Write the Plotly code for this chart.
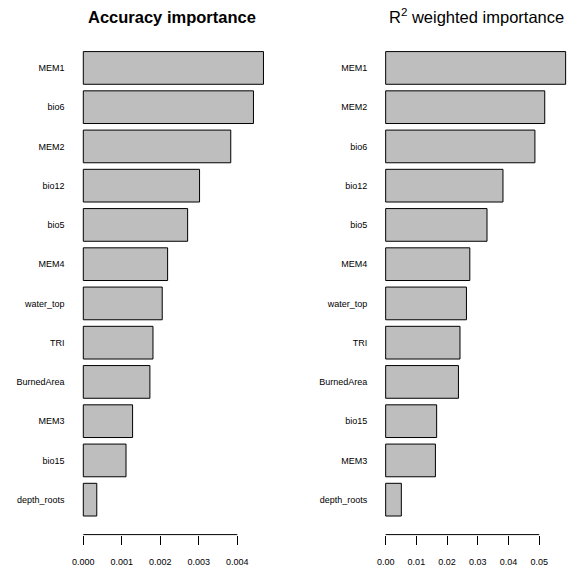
import plotly.graph_objects as go

# accuracy importance, sorted top to bottom
acc_vars = ["MEM1", "bio6", "MEM2", "bio12", "bio5", "MEM4", "water_top",
            "TRI", "BurnedArea", "MEM3", "bio15", "depth_roots"]
acc_vals = [0.00468, 0.00442, 0.00383, 0.00302, 0.00271, 0.00219, 0.00205,
            0.00181, 0.00173, 0.00128, 0.00111, 0.00035]

# R2 weighted importance, sorted top to bottom
r2_vars = ["MEM1", "MEM2", "bio6", "bio12", "bio5", "MEM4", "water_top",
           "TRI", "BurnedArea", "bio15", "MEM3", "depth_roots"]
r2_vals = [0.0586, 0.0518, 0.0486, 0.0382, 0.0330, 0.0274, 0.0263,
           0.0242, 0.0237, 0.0166, 0.0162, 0.0051]

acc_ticks = [0.000, 0.001, 0.002, 0.003, 0.004]
r2_ticks = [0.00, 0.01, 0.02, 0.03, 0.04, 0.05]

FONT = "Liberation Sans, Arial, sans-serif"
W, H = 574, 576

bar_style = dict(orientation="h", marker=dict(color="#bebebe",
                 line=dict(color="black", width=1)), showlegend=False,
                 hoverinfo="x+y")

fig = go.Figure()
fig.add_trace(go.Bar(x=acc_vals, y=acc_vars, xaxis="x", yaxis="y", **bar_style))
fig.add_trace(go.Bar(x=r2_vals, y=r2_vars, xaxis="x2", yaxis="y2", **bar_style))

ydom = [(H - 534.6) / H, (H - 33) / H]
yrange = [11.89, -0.89]

xcommon = dict(showgrid=False, zeroline=False, showline=False, ticks="outside",
               ticklen=9, tickwidth=1, tickcolor="black", automargin=False,
               tickfont=dict(size=9, color="black", family=FONT),
               ticklabelstandoff=10)
ycommon = dict(showgrid=False, zeroline=False, showline=False, ticks="",
               type="category", range=yrange, automargin=False,
               tickfont=dict(size=9, color="black", family=FONT),
               ticklabelstandoff=10, domain=ydom)

fig.update_layout(
    template="none",
    width=W, height=H,
    margin=dict(l=0, r=0, t=0, b=0, pad=0),
    paper_bgcolor="white", plot_bgcolor="white",
    bargap=1 / 6,
    font=dict(family=FONT, color="black"),
    xaxis=dict(domain=[75.6 / W, 270.4 / W], range=[-0.0002, 0.00486],
               tickvals=acc_ticks, tickformat=".3f", anchor="y", **xcommon),
    yaxis=dict(anchor="x", **ycommon),
    xaxis2=dict(domain=[378.3 / W, 573.0 / W], range=[-0.0024, 0.0610],
                tickvals=r2_ticks, tickformat=".2f", anchor="y2", **xcommon),
    yaxis2=dict(anchor="x2", **ycommon),
)

# axis lines spanning first to last tick, as in base R
fig.add_shape(type="line", xref="x", yref="y domain", x0=acc_ticks[0],
              x1=acc_ticks[-1], y0=0, y1=0, line=dict(color="black", width=1))
fig.add_shape(type="line", xref="x2", yref="y2 domain", x0=r2_ticks[0],
              x1=r2_ticks[-1], y0=0, y1=0, line=dict(color="black", width=1))

fig.add_annotation(text="<b>Accuracy importance</b>", x=172 / W, y=1 - 17 / H,
                   xref="paper", yref="paper", showarrow=False,
                   xanchor="center", yanchor="middle",
                   font=dict(size=16.5, family=FONT, color="black"))
fig.add_annotation(text="R<sup>2</sup> weighted importance", x=476 / W,
                   y=1 - 16 / H, xref="paper", yref="paper", showarrow=False,
                   xanchor="center", yanchor="middle",
                   font=dict(size=16.5, family=FONT, color="black"))

fig.write_html("out.html", config={"displayModeBar": False},
               post_script="document.body.style.margin='0';")
